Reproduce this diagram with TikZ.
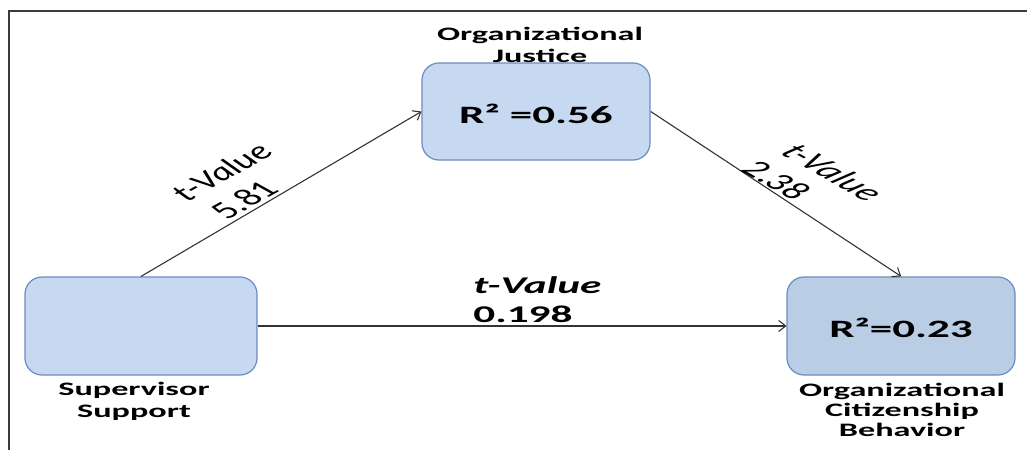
\documentclass[tikz,border=0pt]{standalone}
\usepackage{fontspec}
\setmainfont{Carlito}
\usetikzlibrary{arrows.meta}
\definecolor{boxfill}{HTML}{C6D9F1}
\definecolor{boxfilldark}{HTML}{B9CDE5}
\definecolor{boxline}{HTML}{6A8CC0}
\definecolor{frameline}{HTML}{3C3C3C}
\definecolor{arrowline}{HTML}{333333}
\begin{document}
% Coordinates are given in pixels of a 1027 x 450 canvas; the horizontal
% stretch of 1.8 widens the lettering the same way as the drawing.
\begin{tikzpicture}[x=0.555556pt, y=-1pt, xscale=1.8,
  construct/.style={draw=boxline, line width=1.2pt, fill=boxfill,
    rounded corners=17pt, minimum width=228pt, minimum height=97pt, inner sep=0pt},
  nodecaption/.style={transform shape, inner sep=0pt, align=center,
    font=\bfseries\fontsize{19}{22}\selectfont},
  rsq/.style={transform shape, inner sep=0pt, anchor=base,
    font=\bfseries\fontsize{25}{30}\selectfont},
  tval/.style={transform shape, inner sep=0pt,
    font=\itshape\fontsize{24}{28}\selectfont},
  tnum/.style={transform shape, inner sep=0pt,
    font=\fontsize{24}{28}\selectfont},
  link/.style={draw=arrowline, line width=1.1pt,
    -{Straight Barb[length=7pt,width=11pt]}}
]
\useasboundingbox (0,0) rectangle (1027,450);

% frame
\draw[frameline, line width=2pt] (9,450) -- (9,10.5) -- (1027,10.5);

% constructs
\node[construct, minimum width=232pt, minimum height=98pt] (ss) at (141,326) {};
\node[construct] (oj) at (536,111.5) {};
\node[construct, fill=boxfilldark, minimum height=98pt] (ocb) at (901,326) {};

\node[rsq] (ojr) at (536,123) {R² =0.56};
\node[rsq] (ocbr) at (901,337) {R²=0.23};

% construct names
\node[nodecaption, anchor=north] (ojcap) at (540,27) {Organizational\\Justice};
\node[nodecaption, anchor=north] (sscap) at (134,382) {Supervisor\\Support};
\node[nodecaption, anchor=north,
  font=\bfseries\fontsize{19}{20}\selectfont] (ocbcap) at (902,383)
  {Organizational\\Citizenship\\Behavior};

% paths
\draw[link] (ss.north) -- (oj.west);
\draw[link] (oj.east) -- (ocb.north);
\draw[link] (ss.east) -- (ocb.west);

% path coefficients
\node[tval, rotate=45] (t1) at (221,172) {t-Value};
\node[tnum, rotate=45] (n1) at (244,200) {5.81};
\node[tval, rotate=-45] (t2) at (833,172) {t-Value};
\node[tnum, rotate=-45] (n2) at (777,180) {2.38};
\node[tval, anchor=base west,
  font=\bfseries\itshape\fontsize{24}{28}\selectfont] (t3) at (473,293) {t-Value};
\node[tnum, anchor=base west,
  font=\bfseries\fontsize{24}{28}\selectfont] (n3) at (473,322) {0.198};
\end{tikzpicture}
\end{document}
